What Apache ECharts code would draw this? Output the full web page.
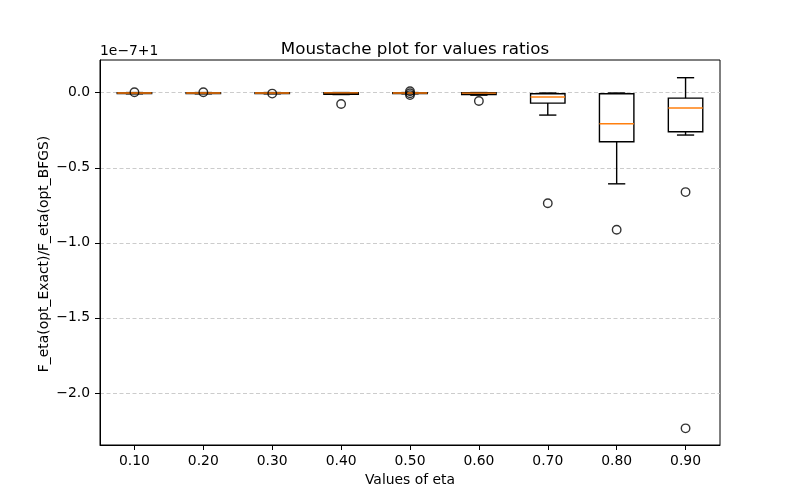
<!DOCTYPE html>
<html>
<head>
<meta charset="utf-8">
<script src="https://cdn.jsdelivr.net/npm/echarts@6/dist/echarts.min.js"></script>
<style>html,body{margin:0;padding:0;background:#fff}#c{width:800px;height:500px}</style>
</head>
<body>
<div id="c"></div>
<script>
// values are in units of 1e-7, offset +1
const categories = ['0.10','0.20','0.30','0.40','0.50','0.60','0.70','0.80','0.90'];
const whiskerLow  = [-0.007, -0.007, -0.007, -0.012, -0.007, -0.016, -0.149, -0.607, -0.282];
const q1          = [-0.005, -0.005, -0.005, -0.010, -0.005, -0.012, -0.069, -0.327, -0.260];
const median      = [-0.002, -0.002, -0.002, -0.001, -0.002, -0.003, -0.029, -0.207, -0.102];
const q3          = [ 0.000,  0.000,  0.000,  0.000,  0.000,  0.000, -0.007, -0.007, -0.036];
const whiskerHigh = [ 0.001,  0.001,  0.001,  0.001,  0.001,  0.001, -0.002, -0.002,  0.100];
const outliers = [[0.003],[0.003],[-0.006],[-0.075],[0.010,-0.004,-0.016],[-0.055],[-0.736],[-0.913],[-0.662,-2.236]];
const yTicks = [0, -0.5, -1.0, -1.5, -2.0];

const boxData = categories.map((c, i) => [i, whiskerLow[i], q1[i], median[i], q3[i], whiskerHigh[i]]);
const flierData = [];
outliers.forEach((arr, i) => arr.forEach(v => flierData.push([i, v])));

const FONT = 'DejaVu Sans';
const FS = 13.9;
const fmt = v => (v < 0 ? '\u2212' : '') + Math.abs(v).toFixed(1);

const chart = echarts.init(document.getElementById('c'));
chart.setOption({
  animation: false,
  backgroundColor: '#fff',
  title: {
    text: 'Moustache plot for values ratios',
    left: 410, top: 36, textAlign: 'center',
    textStyle: {fontFamily: FONT, fontSize: 16.7, fontWeight: 'normal', color: '#000'}
  },
  grid: {left: 100, right: 80, top: 60, bottom: 55, show: true, borderColor: '#000', borderWidth: 1, backgroundColor: 'transparent'},
  xAxis: {
    type: 'category', data: categories, boundaryGap: true,
    name: 'Values of eta', nameLocation: 'middle', nameGap: 28,
    nameTextStyle: {fontFamily: FONT, fontSize: FS, color: '#000'},
    axisLine: {show: true, onZero: false, lineStyle: {color: '#000', width: 1}},
    axisTick: {show: true, alignWithLabel: true, length: 5, lineStyle: {color: '#000', width: 1}},
    axisLabel: {fontFamily: FONT, fontSize: FS, color: '#000', margin: 9},
    splitLine: {show: false}
  },
  yAxis: {
    type: 'value', min: -2.347, max: 0.218,
    axisLine: {show: true, onZero: false, lineStyle: {color: '#000', width: 1}},
    axisTick: {show: true, length: 5, lineStyle: {color: '#000', width: 1}, customValues: yTicks},
    axisLabel: {fontFamily: FONT, fontSize: FS, color: '#000', margin: 10, formatter: fmt, customValues: yTicks},
    splitLine: {show: true, lineStyle: {color: '#cccccc', type: [4, 2.5], width: 1}}
  },
  graphic: [
    {type: 'text', left: 100, top: 44, style: {text: '1e\u22127+1', font: FS + 'px "DejaVu Sans"', fill: '#000'}},
    {type: 'text', x: 44, y: 254, rotation: Math.PI / 2,
     style: {text: 'F_eta(opt_Exact)/F_eta(opt_BFGS)', font: FS + 'px "DejaVu Sans"', fill: '#000', textAlign: 'center', textVerticalAlign: 'middle'}}
  ],
  series: [
    {
      type: 'custom',
      data: boxData,
      encode: {x: 0, y: [1, 2, 3, 4, 5]},
      renderItem: function (params, api) {
        const x = api.value(0);
        const pLo = api.coord([x, api.value(1)]);
        const pQ1 = api.coord([x, api.value(2)]);
        const pMed = api.coord([x, api.value(3)]);
        const pQ3 = api.coord([x, api.value(4)]);
        const pHi = api.coord([x, api.value(5)]);
        const band = api.size([1, 0])[0];
        const bw = band * 0.5;
        const cw = bw * 0.5;
        const cx = pQ1[0];
        const ls = {stroke: '#000', lineWidth: 1.4, fill: null};
        return {
          type: 'group',
          children: [
            {type: 'rect', shape: {x: cx - bw / 2, y: pQ3[1], width: bw, height: pQ1[1] - pQ3[1]}, style: ls},
            {type: 'line', shape: {x1: cx, y1: pQ1[1], x2: cx, y2: pLo[1]}, style: ls},
            {type: 'line', shape: {x1: cx, y1: pQ3[1], x2: cx, y2: pHi[1]}, style: ls},
            {type: 'line', shape: {x1: cx - cw / 2, y1: pLo[1], x2: cx + cw / 2, y2: pLo[1]}, style: ls},
            {type: 'line', shape: {x1: cx - cw / 2, y1: pHi[1], x2: cx + cw / 2, y2: pHi[1]}, style: ls},
            {type: 'line', shape: {x1: cx - bw / 2, y1: pMed[1], x2: cx + bw / 2, y2: pMed[1]}, style: {stroke: '#ff7f0e', lineWidth: 1.4}}
          ]
        };
      },
      z: 3
    },
    {
      type: 'scatter',
      data: flierData,
      symbol: 'circle', symbolSize: 8.5,
      itemStyle: {color: 'rgba(0,0,0,0)', borderColor: '#000', borderWidth: 1.4},
      z: 4
    }
  ]
});
</script>
</body>
</html>
